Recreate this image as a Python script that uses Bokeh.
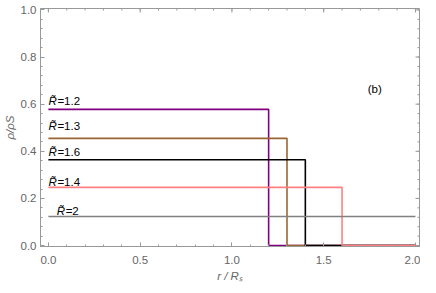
import math
from bokeh.plotting import figure
from bokeh.models import Range1d, FixedTicker, Label
from bokeh.embed import file_html
from bokeh.resources import INLINE

# data
labels = ["1.2", "1.3", "1.6", "1.4", "2"]
heights = [0.578, 0.455, 0.364, 0.247, 0.123]
cutoffs = [1.2, 1.3, 1.4, 1.6, 2.0]
x_end = 2.0
x_ticks = [0, 0.5, 1.0, 1.5, 2.0]
y_ticks = [0, 0.2, 0.4, 0.6, 0.8, 1.0]
x_minor = [i * 0.1 for i in range(0, 21)]
y_minor = [i * 0.04 for i in range(0, 26)]

colors = ["#800080", "#996633", "#000000", "#FF8080", "#808080"]
label_dx = [0.0, 0.0, 0.0, 0.0, 0.045]
label_dy = [0.009, 0.028, 0.009, -0.001, -0.002]

xr = Range1d(-0.043, 2.022)
yr = Range1d(-0.004, 1.006)
p = figure(width=420, height=285, output_backend="svg", toolbar_location=None,
           x_range=xr, y_range=yr,
           min_border_left=36, min_border_right=1, min_border_top=8, min_border_bottom=39)
p.background_fill_color = "white"
p.border_fill_color = "white"
p.grid.visible = False
tick_col = "#999999"
p.outline_line_color = tick_col
p.outline_line_width = 1

for h, c, col in zip(heights, cutoffs, colors):
    if c < x_end:
        xs = [0, c, c, x_end]
        ys = [h, h, 0, 0]
    else:
        xs = [0, c]
        ys = [h, h]
    p.line(xs, ys, line_color=col, line_width=1.6)

# mirrored ticks on top and right frame edges
p.ray(x_ticks, [yr.end] * len(x_ticks), length=4, length_units="screen",
      angle=-math.pi / 2, line_color=tick_col, line_width=1)
p.ray(x_minor, [yr.end] * len(x_minor), length=2, length_units="screen",
      angle=-math.pi / 2, line_color=tick_col, line_width=1)
p.ray([xr.end] * len(y_ticks), y_ticks, length=4, length_units="screen",
      angle=math.pi, line_color=tick_col, line_width=1)
p.ray([xr.end] * len(y_minor), y_minor, length=2, length_units="screen",
      angle=math.pi, line_color=tick_col, line_width=1)

for lab, h, dx, dy in zip(labels, heights, label_dx, label_dy):
    p.add_layout(Label(x=dx, y=h + dy, text="R\u0303", text_font="Liberation Sans",
                       text_font_size="11.5px", text_font_style="italic",
                       text_color="black", text_baseline="bottom"))
    p.add_layout(Label(x=dx, y=h + dy, x_offset=9, text="=" + lab, text_font="Liberation Sans",
                       text_font_size="11.5px",
                       text_color="black", text_baseline="bottom"))

p.add_layout(Label(x=1.74, y=0.665, text="(b)", text_font="Liberation Sans",
                   text_font_size="11.5px", text_color="black", text_baseline="middle"))

xa = p.xaxis[0]
ya = p.yaxis[0]
for ax in (xa, ya):
    ax.axis_line_color = tick_col
    ax.major_tick_line_color = tick_col
    ax.minor_tick_line_color = tick_col
    ax.major_tick_in = 4
    ax.major_tick_out = 0
    ax.minor_tick_in = 2
    ax.minor_tick_out = 0
    ax.major_label_text_font = "Liberation Sans"
    ax.major_label_text_font_size = "11.5px"
    ax.major_label_text_color = "#666666"
    ax.axis_label_text_font = "Liberation Sans"
    ax.axis_label_text_font_size = "11.5px"
    ax.axis_label_text_font_style = "italic"
    ax.axis_label_text_color = "#666666"

xa.ticker = FixedTicker(ticks=x_ticks, minor_ticks=x_minor)
ya.ticker = FixedTicker(ticks=y_ticks, minor_ticks=y_minor)
xa.major_label_overrides = {t: f"{t:.1f}" for t in x_ticks}
ya.major_label_overrides = {t: f"{t:.1f}" for t in y_ticks}
xa.axis_label = "r / R\u209b"
ya.axis_label = "\u03c1/\u03c1S"
xa.major_label_standoff = 9
xa.axis_label_standoff = 3
ya.major_label_standoff = 4
ya.axis_label_standoff = 2

open("out.html", "w").write(file_html(p, INLINE))
